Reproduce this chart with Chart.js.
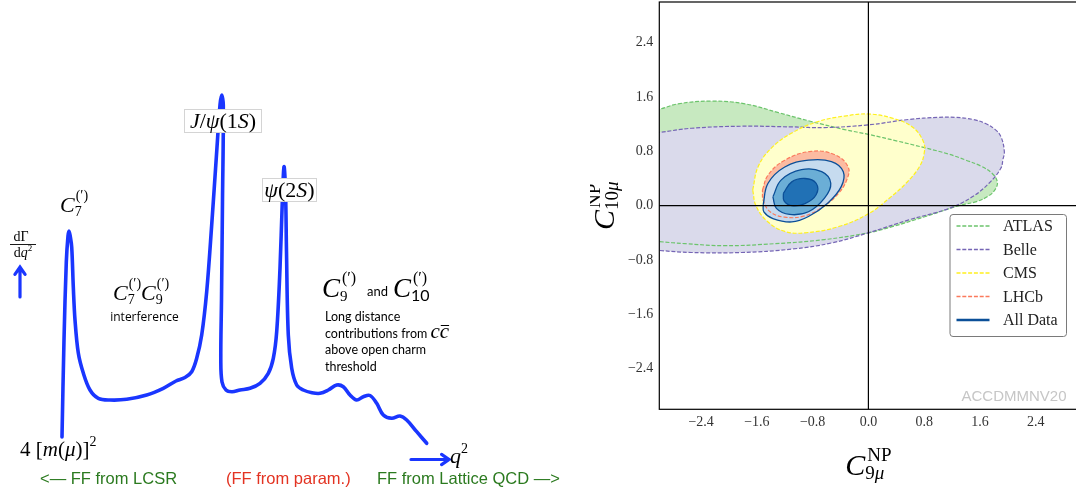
<!DOCTYPE html>
<html>
<head>
<meta charset="utf-8">
<script src="https://cdn.jsdelivr.net/npm/chart.js@4.4.0/dist/chart.umd.min.js"></script>
<style>
  html, body { margin: 0; padding: 0; background: #fff; overflow: hidden; }
  #spectrum { position: absolute; left: 0; top: 0; }
  #fit { position: absolute; left: 590px; top: 0; }
</style>
</head>
<body>
<canvas id="spectrum" width="560" height="490"></canvas>
<canvas id="fit" width="490" height="490"></canvas>
<script>
// ---- left: sketch of dGamma/dq^2 against q^2 (arbitrary units) ----
const q2 = [0, 0.1, 0.215, 0.3, 0.35, 0.41, 0.485, 0.565, 0.65, 0.815, 1.065, 1.4, 1.815, 2.4, 3.235,
  4.235, 5.065, 5.7, 6.15, 6.485, 6.735, 6.985, 7.235, 7.485, 7.735, 7.9, 7.985, 8.065, 8.025, 7.975,
  7.94, 8.0, 8.2, 8.5, 8.9, 9.4, 9.9, 10.315, 10.565, 10.735, 10.9, 11.015, 11.1, 11.175, 11.225,
  11.315, 11.485, 11.735, 12.065, 12.5, 12.9, 13.315, 13.735, 14.065, 14.4, 14.735, 15.065, 15.4,
  15.735, 16.065, 16.485, 16.9, 17.235, 17.735, 18.235];
const rate = [0, 4.85, 8.75, 10.05, 10.3, 10.05, 9.5, 7.5, 5.85, 4.2, 3.2, 2.35, 1.935, 1.85, 1.885,
  2.1, 2.435, 2.8, 2.975, 3.265, 3.935, 5.1, 7.265, 10.6, 14.265, 16.6, 17.1, 16.6, 11.85, 6.85,
  3.85, 2.75, 2.35, 2.265, 2.35, 2.435, 2.685, 3.185, 3.935, 5.265, 8.435, 11.765, 13.515, 12.35, 9.265,
  5.1, 3.435, 2.6, 2.35, 2.215, 2.185, 2.35, 2.6, 2.515, 2.1, 1.85, 2.015, 2.075,
  1.685, 1.1, 0.935, 1.05, 0.85, 0.265, -0.315];

// ---- right: fit contours in the (C9, C10) plane ----
const c9Ticks = [-2.4, -1.6, -0.8, 0, 0.8, 1.6, 2.4];
const c10Ticks = [-2.4, -1.6, -0.8, 0, 0.8, 1.6, 2.4];
const legendLabels = ['ATLAS', 'Belle', 'CMS', 'LHCb', 'All Data'];

const atlasC9 = [-3.3, -3.0, -2.73, -2.25, -1.77, -1.29, -0.82, -0.34, 0.0, 0.42, 0.82, 1.15, 1.40, 1.62, 1.78,
  1.85, 1.82, 1.72, 1.55, 1.30, 0.82, 0.34, 0.0, -0.63, -1.34, -2.06, -2.63, -3.0, -3.3, -3.3];
const atlasC10 = [1.36, 1.42, 1.50, 1.54, 1.50, 1.37, 1.24, 1.12, 1.05, 0.95, 0.85, 0.76, 0.67, 0.58, 0.47,
  0.35, 0.24, 0.14, 0.06, 0.0, -0.16, -0.31, -0.40, -0.50, -0.56, -0.59, -0.56, -0.53, -0.50, 1.36];

const belleC9 = [-3.3, -3.0, -2.54, -1.82, -1.10, -0.63, 0.0, 0.58, 1.0, 1.25, 1.50, 1.68, 1.82, 1.90, 1.95,
  1.93, 1.90, 1.73, 1.49, 1.16, 0.58, 0.0, -0.53, -1.10, -1.82, -2.54, -3.0, -3.3, -3.3];
const belleC10 = [1.06, 1.08, 1.14, 1.17, 1.16, 1.15, 1.19, 1.27, 1.30, 1.30, 1.27, 1.21, 1.12, 1.02, 0.80,
  0.68, 0.55, 0.33, 0.13, -0.04, -0.21, -0.40, -0.55, -0.64, -0.69, -0.69, -0.66, -0.63, 1.06];

const cmsC9 = [-1.66, -1.58, -1.39, -1.10, -0.72, -0.34, 0.0, 0.34, 0.63, 0.79, 0.80, 0.73, 0.54, 0.30,
  0.0, -0.43, -0.91, -1.20, -1.44, -1.61, -1.66];
const cmsC10 = [0.23, 0.58, 0.85, 1.07, 1.24, 1.32, 1.35, 1.29, 1.16, 0.94, 0.77, 0.57, 0.33, 0.11,
  -0.12, -0.31, -0.40, -0.38, -0.24, -0.01, 0.23];

const lhcbC9 = [-1.52, -1.44, -1.20, -0.82, -0.48, -0.29, -0.31, -0.43, -0.63, -0.91, -1.20, -1.41, -1.51, -1.52];
const lhcbC10 = [0.23, 0.45, 0.67, 0.80, 0.75, 0.57, 0.38, 0.18, 0.0, -0.15, -0.17, -0.09, 0.08, 0.23];

const all3C9 = [-1.51, -1.44, -1.20, -0.86, -0.53, -0.36, -0.39, -0.58, -0.86, -1.10, -1.37, -1.50, -1.51];
const all3C10 = [0.01, 0.33, 0.57, 0.67, 0.65, 0.50, 0.28, 0.04, -0.16, -0.24, -0.19, -0.09, 0.01];
const all2C9 = [-1.37, -1.25, -0.96, -0.67, -0.54, -0.63, -0.86, -1.13, -1.32, -1.37];
const all2C10 = [0.13, 0.38, 0.53, 0.50, 0.33, 0.11, -0.09, -0.13, -0.04, 0.13];
const all1C9 = [-1.22, -1.10, -0.91, -0.75, -0.75, -0.91, -1.10, -1.21, -1.22];
const all1C10 = [0.18, 0.35, 0.40, 0.33, 0.16, 0.03, 0.0, 0.07, 0.18];

const SERIF = '"Liberation Serif", "DejaVu Serif", serif';
const rm = s => `${s}px ${SERIF}`;
const it = s => `italic ${s}px ${SERIF}`;
const sans = (s, fam) => `${s}px ${fam || '"Liberation Sans", Arial, sans-serif'}`;
const BLUE = '#1a36ff';

// small helper for math-like labels: plain parts and sup/sub script groups
function partsWidth(ctx, parts) {
  return parts.reduce((w, p) => { ctx.font = p.f; return w + ctx.measureText(p.t).width; }, 0);
}
function drawParts(ctx, parts, x, y) {
  parts.forEach(p => { ctx.font = p.f; ctx.fillText(p.t, x, y); x += ctx.measureText(p.t).width; });
}
function mathText(ctx, x, y, segs, align) {
  const widths = segs.map(s => (s.sup || s.sub)
    ? Math.max((s.supDx || 0) + (s.sup ? partsWidth(ctx, s.sup) : 0), s.sub ? partsWidth(ctx, s.sub) : 0)
    : partsWidth(ctx, [s]));
  const total = widths.reduce((a, b) => a + b, 0);
  let cx = x - (align === 'center' ? total / 2 : align === 'right' ? total : 0);
  ctx.textAlign = 'left';
  ctx.textBaseline = 'alphabetic';
  segs.forEach((s, i) => {
    if (s.sup || s.sub) {
      if (s.sup) drawParts(ctx, s.sup, cx + (s.supDx || 0), y + s.supDy);
      if (s.sub) drawParts(ctx, s.sub, cx, y + s.subDy);
    } else {
      drawParts(ctx, [s], cx, y);
    }
    cx += widths[i];
  });
  return total;
}

function labelBox(ctx, x, y, w, h) {
  ctx.fillStyle = '#fff';
  ctx.fillRect(x, y, w, h);
  ctx.strokeStyle = '#d4d4d4';
  ctx.lineWidth = 1;
  ctx.strokeRect(x + 0.5, y + 0.5, w - 1, h - 1);
}

function arrow(ctx, x1, y1, x2, y2) {
  const a = Math.atan2(y2 - y1, x2 - x1);
  ctx.strokeStyle = BLUE;
  ctx.lineWidth = 3.2;
  ctx.lineCap = 'round';
  ctx.beginPath();
  ctx.moveTo(x1, y1);
  ctx.lineTo(x2, y2);
  ctx.moveTo(x2 - 9 * Math.cos(a - 0.6), y2 - 9 * Math.sin(a - 0.6));
  ctx.lineTo(x2, y2);
  ctx.lineTo(x2 - 9 * Math.cos(a + 0.6), y2 - 9 * Math.sin(a + 0.6));
  ctx.stroke();
}

const spectrumNotes = {
  id: 'spectrumNotes',
  afterDatasetsDraw(chart) {
    const ctx = chart.ctx;
    ctx.save();
    ctx.fillStyle = '#000';
    const prime = s => [{ t: '(\u2032)', f: rm(s) }];

    // C7 over the photon pole
    mathText(ctx, 60, 212, [{ t: 'C', f: it(22) },
      { sup: prime(14), sub: [{ t: '7', f: rm(14) }], supDy: -12, subDy: 4, supDx: 1 }]);

    // dGamma/dq^2 with upward arrow
    mathText(ctx, 21, 241, [{ t: 'd\u0393', f: rm(14) }], 'center');
    ctx.fillRect(10, 244, 26, 0.9);
    mathText(ctx, 23, 257, [{ t: 'd', f: rm(14) }, { t: 'q', f: it(14) },
      { sup: [{ t: '2', f: rm(9) }], supDy: -6 }], 'center');
    arrow(ctx, 20, 297, 20, 267);

    // C7 C9 interference
    ctx.fillStyle = '#000';
    mathText(ctx, 113, 300, [{ t: 'C', f: it(22) },
      { sup: prime(14), sub: [{ t: '7', f: rm(14) }], supDy: -12, subDy: 4, supDx: 1 },
      { t: 'C', f: it(22) },
      { sup: prime(14), sub: [{ t: '9', f: rm(14) }], supDy: -12, subDy: 4, supDx: 1 }]);
    ctx.font = sans(12, '"Open Sans", sans-serif');
    ctx.textAlign = 'center';
    ctx.fillText('interference', 144.5, 321);

    // resonance labels in white boxes
    labelBox(ctx, 184, 109, 78, 24);
    ctx.fillStyle = '#000';
    mathText(ctx, 223, 128, [{ t: 'J', f: it(22) }, { t: '/', f: rm(22) }, { t: '\u03c8', f: it(22) },
      { t: '(1', f: rm(22) }, { t: 'S', f: it(22) }, { t: ')', f: rm(22) }], 'center');
    labelBox(ctx, 262, 178, 55, 24);
    ctx.fillStyle = '#000';
    mathText(ctx, 289.5, 197, [{ t: '\u03c8', f: it(22) }, { t: '(2', f: rm(22) },
      { t: 'S', f: it(22) }, { t: ')', f: rm(22) }], 'center');

    // C9 and C10, long distance text
    mathText(ctx, 322, 297, [{ t: 'C', f: it(27) },
      { sup: prime(16), sub: [{ t: '9', f: rm(15) }], supDy: -14, subDy: 4, supDx: 2 }]);
    ctx.font = sans(13, 'Lato, sans-serif');
    ctx.fillText('and', 367, 296);
    mathText(ctx, 393, 297, [{ t: 'C', f: it(27) },
      { sup: prime(16), sub: [{ t: '10', f: sans(16, 'Lato, sans-serif') }], supDy: -14, subDy: 4, supDx: 2 }]);

    ctx.font = sans(12.5, 'Lato, sans-serif');
    ctx.textAlign = 'left';
    ['Long distance', 'contributions from', 'above open charm', 'threshold'].forEach((line, i) => {
      ctx.fillText(line, 325, 321 + i * 16.6);
    });
    const cx = 325 + ctx.measureText('contributions from ').width;
    ctx.font = it(21);
    ctx.fillText('cc', cx, 337.5);
    const cw = ctx.measureText('c').width;
    ctx.fillRect(cx + cw + 1, 325, cw - 1, 1);

    // threshold and q^2 axis labels
    mathText(ctx, 20, 456, [{ t: '4 [', f: rm(21) }, { t: 'm', f: it(21) }, { t: '(', f: rm(21) },
      { t: '\u03bc', f: it(21) }, { t: ')]', f: rm(21) }, { sup: [{ t: '2', f: rm(14) }], supDy: -10 }]);
    arrow(ctx, 411, 459.5, 449, 459.5);
    ctx.fillStyle = '#000';
    mathText(ctx, 450, 463, [{ t: 'q', f: it(22) }, { sup: [{ t: '2', f: rm(14) }], supDy: -10 }]);

    // form factor regions
    ctx.font = sans(16.5);
    ctx.textAlign = 'left';
    ctx.fillStyle = '#2b7a1f';
    ctx.fillText('<\u2014 FF from LCSR', 40, 484);
    ctx.fillStyle = '#e33322';
    ctx.fillText('(FF from param.)', 226, 484);
    ctx.fillStyle = '#2b7a1f';
    ctx.fillText('FF from Lattice QCD \u2014>', 377, 484);
    ctx.restore();
  }
};

new Chart(document.getElementById('spectrum'), {
  type: 'scatter',
  data: {
    datasets: [{
      data: q2.map((x, i) => ({ x, y: rate[i] })),
      showLine: true,
      borderColor: BLUE,
      borderWidth: 3.6,
      borderCapStyle: 'round',
      borderJoinStyle: 'round',
      pointRadius: 0,
      tension: 0.35
    }]
  },
  options: {
    responsive: false,
    animation: false,
    layout: { padding: 0 },
    scales: {
      x: { type: 'linear', display: false, min: -3.1, max: 24.9 },
      y: { type: 'linear', display: false, min: -2.65, max: 21.85 }
    },
    plugins: { legend: { display: false }, tooltip: { enabled: false } }
  },
  plugins: [spectrumNotes]
});

// ---- right chart ----
function contour(label, xs, ys, fillColor, edgeColor, dashed, width) {
  return {
    label,
    data: xs.map((x, i) => ({ x, y: ys[i] })),
    showLine: true,
    fill: 'shape',
    backgroundColor: fillColor,
    borderColor: edgeColor,
    borderWidth: width,
    borderDash: dashed ? [4, 1.8] : [],
    pointRadius: 0,
    tension: 0.4
  };
}

const ALL_EDGE = '#0b4f98';
// index 0 ends up on top
const fitDatasets = [
  contour('', all1C9, all1C10, '#2171b5', ALL_EDGE, false, 1.3),
  contour('', all2C9, all2C10, '#6baed6', ALL_EDGE, false, 1.3),
  contour('All Data', all3C9, all3C10, '#c6dbef', ALL_EDGE, false, 1.3),
  contour('LHCb', lhcbC9, lhcbC10, '#fcbba1', '#fb7a5c', true, 1.2),
  contour('CMS', cmsC9, cmsC10, '#ffffcc', '#fff01e', true, 1.2),
  contour('Belle', belleC9, belleC10, '#dadaeb', '#7565b5', true, 1.2),
  contour('ATLAS', atlasC9, atlasC10, '#c7e9c0', '#6cc46c', true, 1.2)
];

const fitFrame = {
  id: 'fitFrame',
  afterDatasetsDraw(chart) {
    const { ctx, chartArea: a, scales: { x, y } } = chart;
    ctx.save();
    ctx.strokeStyle = '#000';
    ctx.lineWidth = 1.2;
    ctx.beginPath();
    const x0 = x.getPixelForValue(0), y0 = y.getPixelForValue(0);
    ctx.moveTo(x0, a.top); ctx.lineTo(x0, a.bottom);
    ctx.moveTo(a.left, y0); ctx.lineTo(a.right, y0);
    ctx.stroke();
    ctx.strokeRect(a.left, a.top, a.right - a.left, a.bottom - a.top);
    ctx.restore();
  },
  afterDraw(chart) {
    const { ctx, chartArea: a, scales: { x, y } } = chart;
    ctx.save();

    // watermark
    ctx.font = sans(15);
    ctx.fillStyle = '#c6c6c6';
    ctx.textAlign = 'right';
    ctx.fillText('ACCDMMNV20', a.right - 11, a.bottom - 8);

    // legend
    const lx = a.right - 128, ly = a.top + 212, lw = 116.5, lh = 122;
    ctx.beginPath();
    ctx.roundRect(lx + 0.5, ly + 0.5, lw, lh, 3);
    ctx.fillStyle = 'rgba(255,255,255,0.85)';
    ctx.fill();
    ctx.strokeStyle = '#7a7a7a';
    ctx.lineWidth = 1;
    ctx.stroke();
    legendLabels.forEach((name, i) => {
      const ds = chart.data.datasets.find(d => d.label === name);
      const ry = ly + 12 + i * 23.5;
      ctx.beginPath();
      ctx.strokeStyle = ds.borderColor;
      ctx.lineWidth = ds.borderDash.length ? 1.3 : 2.6;
      ctx.setLineDash(ds.borderDash);
      ctx.moveTo(lx + 7, ry);
      ctx.lineTo(lx + 40, ry);
      ctx.stroke();
      ctx.setLineDash([]);
      ctx.fillStyle = '#222';
      ctx.font = rm(16);
      ctx.textAlign = 'left';
      ctx.textBaseline = 'middle';
      ctx.fillText(name, lx + 53.5, ry + 1);
    });

    // axis titles
    ctx.fillStyle = '#000';
    const title = n => [{ t: 'C', f: it(30) },
      { sup: [{ t: 'NP', f: rm(19) }], sub: [{ t: n, f: rm(19) }, { t: '\u03bc', f: it(19) }],
        supDy: -14, subDy: 4, supDx: 2 }];
    mathText(ctx, x.getPixelForValue(0), 475, title('9'), 'center');
    ctx.translate(24, y.getPixelForValue(0));
    ctx.rotate(-Math.PI / 2);
    mathText(ctx, 0, 0, title('10'), 'center');
    ctx.restore();
  }
};

const tickText = v => (v === 0 ? '0.0' : v.toFixed(1).replace('-', '\u2212'));

new Chart(document.getElementById('fit'), {
  type: 'scatter',
  data: { datasets: fitDatasets },
  options: {
    responsive: false,
    animation: false,
    layout: { padding: { top: 2, right: 2.5, left: 0, bottom: 0 } },
    elements: { line: { capBezierPoints: false } },
    scales: {
      x: {
        type: 'linear', min: -3, max: 3,
        afterBuildTicks: s => { s.ticks = c9Ticks.map(value => ({ value })); },
        afterFit: s => { s.height = 80.7; s.paddingLeft = 0; s.paddingRight = 0; },
        grid: { display: false, drawTicks: false },
        border: { display: false },
        ticks: { padding: 5, maxRotation: 0, autoSkip: false, color: '#333',
          font: { family: 'Liberation Serif', size: 14 }, callback: tickText }
      },
      y: {
        type: 'linear', min: -3, max: 3,
        afterBuildTicks: s => { s.ticks = c10Ticks.map(value => ({ value })); },
        afterFit: s => { s.width = 69.3; s.paddingTop = 0; s.paddingBottom = 0; },
        grid: { display: false, drawTicks: false },
        border: { display: false },
        ticks: { padding: 6, autoSkip: false, color: '#333',
          font: { family: 'Liberation Serif', size: 14 }, callback: tickText }
      }
    },
    plugins: {
      legend: { display: false },
      tooltip: { enabled: false },
      filler: { drawTime: 'beforeDatasetsDraw' }
    }
  },
  plugins: [fitFrame]
});
</script>
</body>
</html>
